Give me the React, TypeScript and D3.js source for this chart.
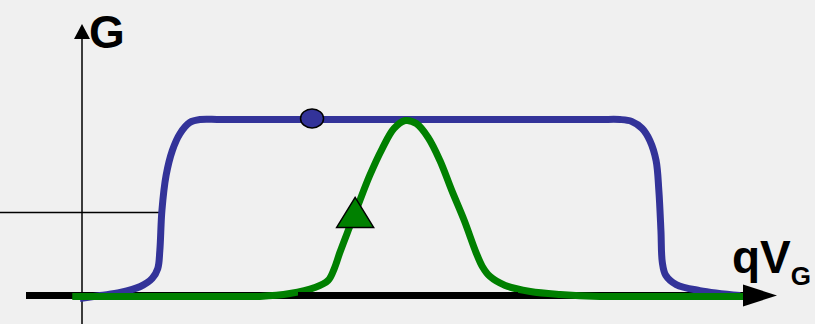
import React from "react";
import * as d3 from "d3";

// Data (x: gate energy axis 0..100, y: conductance 0..100)
const blueX = [-0.3, 2.6, 5.5, 8.4, 10.1, 10.9, 11.2, 11.5, 12.1, 13.0, 14.1, 15.5, 17.0, 20.0, 35.0, 50.0, 65.0, 74.5, 77.4, 79.1, 80.6, 81.7, 82.6, 83.0, 83.3, 83.5, 84.0, 85.5, 88.9, 94.7];
const blueY = [-1.7, 0, 1.7, 5.1, 9.7, 15.3, 25.6, 48.3, 68.2, 82.4, 92.0, 98.3, 100, 100, 100, 100, 100, 100, 100, 98.9, 94.9, 88.1, 76.7, 59.7, 36.9, 18.8, 11.4, 6.2, 2.8, 0];
const greenX = [-1.4, 10.0, 20.0, 25.6, 29.9, 33.5, 35.4, 36.3, 37.1, 38.3, 39.7, 41.4, 43.2, 44.9, 46.5, 48.1, 49.8, 51.5, 53.2, 55.0, 56.7, 57.6, 58.7, 60.9, 64.5, 68.8, 74.5, 85.0, 95.4];
const greenY = [-0.5, -0.5, -0.5, -0.5, 1.1, 4.5, 8.5, 15.3, 24.4, 36.9, 51.1, 68.2, 83.5, 94.9, 99.4, 97.7, 89.8, 76.7, 59.7, 42.6, 24.4, 16.5, 10.8, 5.7, 2.3, 0.6, -0.5, -0.5, -0.5];
const circleMarker = [33.1, 100.6];
const triangleMarker = [39.3, 47.2];
const refLevel = 47.2;
const axisLabelY = "G";
const axisLabelX = "qV";
const axisLabelXSub = "G";

const W = 815;
const H = 324;

export default function App() {
  const x = d3.scaleLinear().domain([0, 100]).range([82, 777]);
  const y = d3.scaleLinear().domain([0, 100]).range([295.5, 119.5]);
  const line = d3
    .line<[number, number]>()
    .x((d) => x(d[0]))
    .y((d) => y(d[1]))
    .curve(d3.curveCatmullRom.alpha(0.5));
  const blue = blueX.map((v, i) => [v, blueY[i]] as [number, number]);
  const green = greenX.map((v, i) => [v, greenY[i]] as [number, number]);
  const x0 = x(0);
  const y0 = y(0);
  const tx = x(triangleMarker[0]);
  const ty = y(triangleMarker[1]);
  return (
    <div style={{ position: "absolute", left: 0, top: 0 }}>
      <svg width={W} height={H} style={{ display: "block", background: "#f0f0f0" }}>
        <rect x={0} y={0} width={W} height={H} fill="#f0f0f0" />
        {/* vertical axis */}
        <line x1={x0} x2={x0} y1={H} y2={36} stroke="#000" strokeWidth={1.5} />
        <path d={`M${x0},24 L${x0 + 8},39 L${x0 - 8},39 Z`} fill="#000" />
        {/* reference level line */}
        <line x1={0} x2={159} y1={y(refLevel)} y2={y(refLevel)} stroke="#000" strokeWidth={1.5} />
        {/* horizontal axis */}
        <line x1={26} x2={750} y1={y0} y2={y0} stroke="#000" strokeWidth={7} />
        {/* curves */}
        <path d={line(blue) || ""} fill="none" stroke="#333399" strokeWidth={7} strokeLinejoin="round" />
        <path d={line(green) || ""} fill="none" stroke="#008000" strokeWidth={7} strokeLinejoin="round" />
        <line x1={298} x2={518} y1={y0} y2={y0} stroke="#000" strokeWidth={7} />
        <path d={`M777,${y0} L743,${y0 - 11} L743,${y0 + 11} Z`} fill="#000" />
        {/* markers */}
        <ellipse cx={x(circleMarker[0])} cy={y(circleMarker[1])} rx={11.5} ry={9.5} fill="#333399" stroke="#000" strokeWidth={1.5} />
        <path d={`M${tx},${ty - 15} L${tx + 18.5},${ty + 15} L${tx - 18.5},${ty + 15} Z`} fill="#008000" stroke="#000" strokeWidth={1.5} />
        {/* labels */}
        <text x={89} y={48} fontFamily="Liberation Sans, Arial, sans-serif" fontWeight="bold" fontSize={46} fill="#000">
          {axisLabelY}
        </text>
        <text x={732} y={273} fontFamily="Liberation Sans, Arial, sans-serif" fontWeight="bold" fontSize={46} fill="#000">
          {axisLabelX}
          <tspan fontSize={26} dy={12}>{axisLabelXSub}</tspan>
        </text>
      </svg>
    </div>
  );
}
